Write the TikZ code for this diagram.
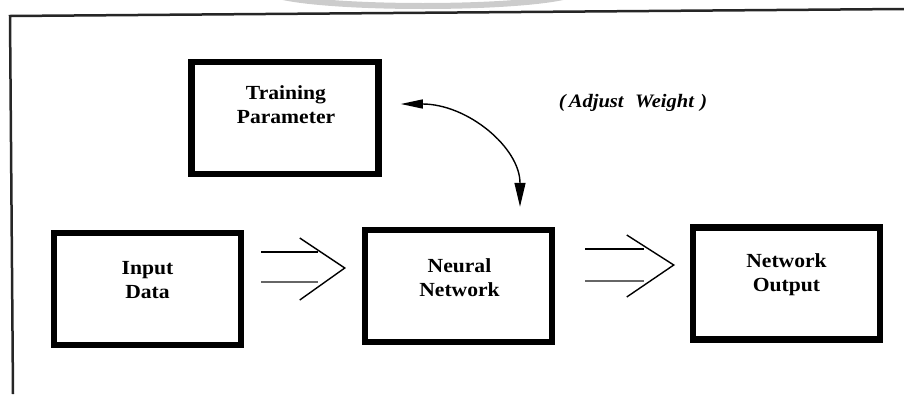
\documentclass[tikz,border=0pt]{standalone}
\usepackage{fontspec}
\setmainfont{Liberation Serif}[FakeStretch=1.08]
\usetikzlibrary{calc,arrows.meta}
\tikzset{
  box/.style={draw=black, line width=6.5pt, rectangle, inner sep=0pt,
              minimum width=187pt, minimum height=112pt},
  boxtext/.style={align=center, inner sep=0pt,
              font=\fontsize{20}{24}\selectfont\bfseries},
  thinline/.style={line width=1.4pt, black},
  grayline/.style={line width=1.6pt, black!60},
  frame/.style={line width=2.5pt, black!85},
  curvearrow/.style={line width=1.4pt, {Triangle[length=22pt,width=9pt]}-{Triangle[length=24pt,width=11pt]}},
}
\begin{document}
\begin{tikzpicture}[x=1pt,y=-1pt]
\useasboundingbox (0,0) rectangle (904,394);
% scanned artefact arc at the top
\draw[gray!40, line width=6pt] (283,-3) .. controls (340,9) and (506,9) .. (563,-3);
% page frame
\coordinate (f0) at (10,16);
\coordinate (f1) at (904,9);
\coordinate (f2) at (13,394);
\draw[frame] (f1) -- (f0) -- (f2);
% boxes
\node[box] (tp)  at (285,118)   {};
\node[box] (in)  at (147.5,289) {};
\node[box] (nn)  at (458.5,286) {};
\node[box] (out) at (786.5,283.5) {};
% texts
\node[boxtext] (tpt)  at ($(tp.center)+(1,-13)$)   {Training\\Parameter};
\node[boxtext] (int)  at ($(in.center)+(0,-9)$)    {Input\\Data};
\node[boxtext] (nnt)  at ($(nn.center)+(1,-8)$)    {Neural\\Network};
\node[boxtext] (outt) at ($(out.center)+(0,-8.5)$) {Network\\Output};
\node[font=\fontsize{19}{23}\selectfont\bfseries\itshape, inner sep=0pt] (adj) at (633,103) {(\,Adjust\,\, Weight\,\,)};
% curved double-headed arrow
\coordinate (c1) at ($(tp.east)+(19,-14)$);
\coordinate (c2) at ($(nn.north)+(61.5,-20)$);
\draw[curvearrow] (c1) .. controls ($(c1)+(67,0)$) and ($(c2)+(0,-59)$) .. (c2);
% double arrow 1: Input Data -> Neural Network
\coordinate (s1) at ($(in.east |- 0,268)+(17,0)$);
\coordinate (t1) at ($(nn.west |- 0,268)+(-17,0)$);
\draw[thinline] ($(s1)+(0,-16)$) -- ($(t1)+(-27,-16)$);
\draw[grayline] ($(s1)+(0,14)$) -- ($(t1)+(-27,14)$);
\draw[thinline, line join=miter] ($(t1)+(-45,-30)$) -- (t1) -- ($(t1)+(-45,32)$);
% double arrow 2: Neural Network -> Network Output
\coordinate (s2) at ($(nn.east |- 0,265)+(30,0)$);
\coordinate (t2) at ($(out.west |- 0,265)+(-16,0)$);
\draw[thinline] ($(s2)+(0,-16)$) -- ($(t2)+(-30,-16)$);
\draw[grayline] ($(s2)+(0,16)$) -- ($(t2)+(-30,16)$);
\draw[thinline, line join=miter] ($(t2)+(-47,-30)$) -- (t2) -- ($(t2)+(-47,32)$);
\end{tikzpicture}
\end{document}
